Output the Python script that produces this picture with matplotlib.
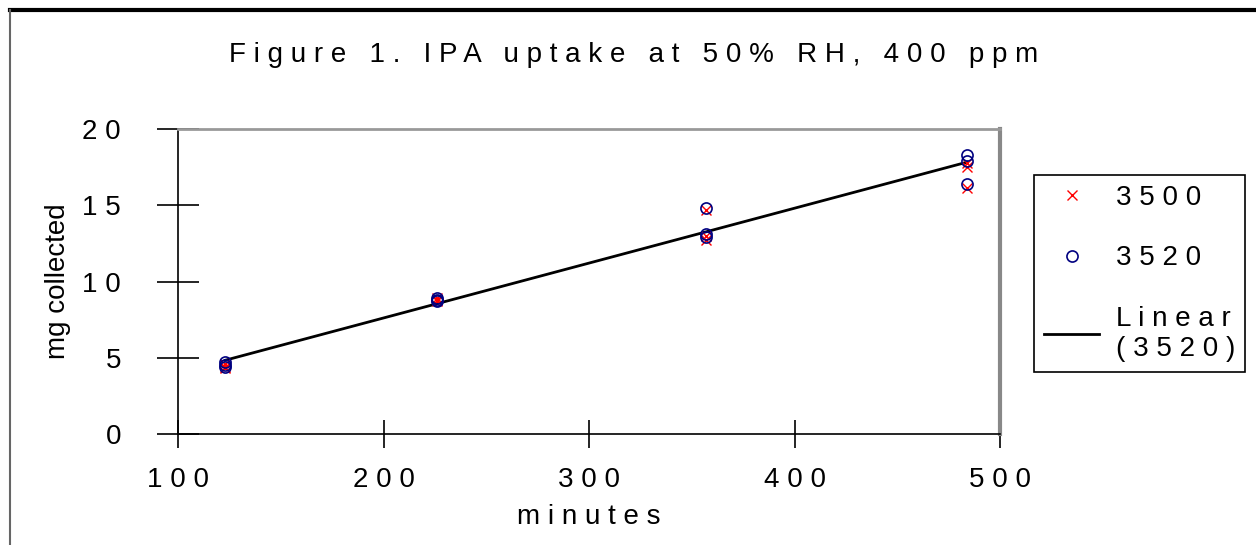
import matplotlib.pyplot as plt
import matplotlib.lines  as mlines
import numpy             as np

#-------------------------------------------------------------------------
# Data

minutes   = [123, 226, 357, 484]

# three samples per time point
mg_3500   = [[4.4, 4.6, 4.3], [8.7, 8.9, 8.8], [14.7, 13.0, 12.7], [17.8, 17.5, 16.1]]
mg_3520   = [[4.7, 4.5, 4.4], [8.9, 8.8, 8.7], [14.8, 13.1, 12.9], [18.3, 17.9, 16.4]]

xticks    = [100, 200, 300, 400, 500]
yticks    = [0, 5, 10, 15, 20]

title_txt = "Figure 1. IPA uptake at 50% RH, 400 ppm"

#-------------------------------------------------------------------------

def spaced(s):
    return " ".join(s)

plt.rcParams['font.family'] = ['Liberation Sans', 'DejaVu Sans']

x_3500 = np.repeat(minutes, 3)
y_3500 = np.array(mg_3500).ravel()
x_3520 = np.repeat(minutes, 3)
y_3520 = np.array(mg_3520).ravel()

slope, icpt = np.polyfit(x_3520, y_3520, 1)
fit_x = np.array([min(minutes), max(minutes)])
fit_y = slope * fit_x + icpt

#-------------------------------------------------------------------------
# Plot

fig = plt.figure(figsize=(12.56, 5.45), dpi=100)
ax  = fig.add_axes([178/1256, 1-434/545, 822/1256, 305/545])

ax.plot(x_3500, y_3500, linestyle='none', marker='x', color='red',
        markersize=7, markeredgewidth=1.0, label=spaced("3500"), zorder=3)
ax.plot(x_3520, y_3520, linestyle='none', marker='o', markerfacecolor='none',
        markeredgecolor='navy', markersize=8, markeredgewidth=1.2,
        label=spaced("3520"), zorder=3)
ax.plot(fit_x, fit_y, color='black', linewidth=2.0, zorder=2,
        label=spaced("Linear") + "\n" + spaced("(3520)"))

ax.set_xlim(100, 500)
ax.set_ylim(0, 20)
ax.set_xticks(xticks)
ax.set_xticklabels([spaced(str(t)) for t in xticks], fontsize=20)
ax.set_yticks(yticks)
ax.set_yticklabels([spaced(str(t)) for t in yticks], fontsize=20)
ax.tick_params(axis='y', direction='inout', length=30, width=1.2, pad=26)
ax.tick_params(axis='x', direction='inout', length=20, width=1.2, pad=14)

for side in ['left', 'bottom']:
    ax.spines[side].set_color('black')
    ax.spines[side].set_linewidth(1.2)
ax.spines['top'].set_color('#999999')
ax.spines['top'].set_linewidth(2)
ax.spines['right'].set_color('#888888')
ax.spines['right'].set_linewidth(3)

ax.set_xlabel(spaced("minutes"), fontsize=20, labelpad=8)
ax.set_ylabel("mg collected", fontsize=20, labelpad=8)

fig.text(634/1256, 1-55/545, spaced(title_txt), fontsize=20,
         ha='center', va='center')

leg = ax.legend(loc='upper left', bbox_to_anchor=(1034/1256, 1-175/545),
                bbox_transform=fig.transFigure, fontsize=20, frameon=True,
                fancybox=False, edgecolor='black', framealpha=1,
                borderpad=0.35, labelspacing=1.25, handlelength=2.0,
                handletextpad=0.6, borderaxespad=0)
leg.get_frame().set_linewidth(1.2)

# outer chart border
fig.add_artist(mlines.Line2D([10/1256, 1], [1-10/545, 1-10/545],
                             color='black', linewidth=3, transform=fig.transFigure))
fig.add_artist(mlines.Line2D([10/1256, 10/1256], [0, 1-10/545],
                             color='#666666', linewidth=1.5, transform=fig.transFigure))

fig.savefig("out.png", dpi=100)
